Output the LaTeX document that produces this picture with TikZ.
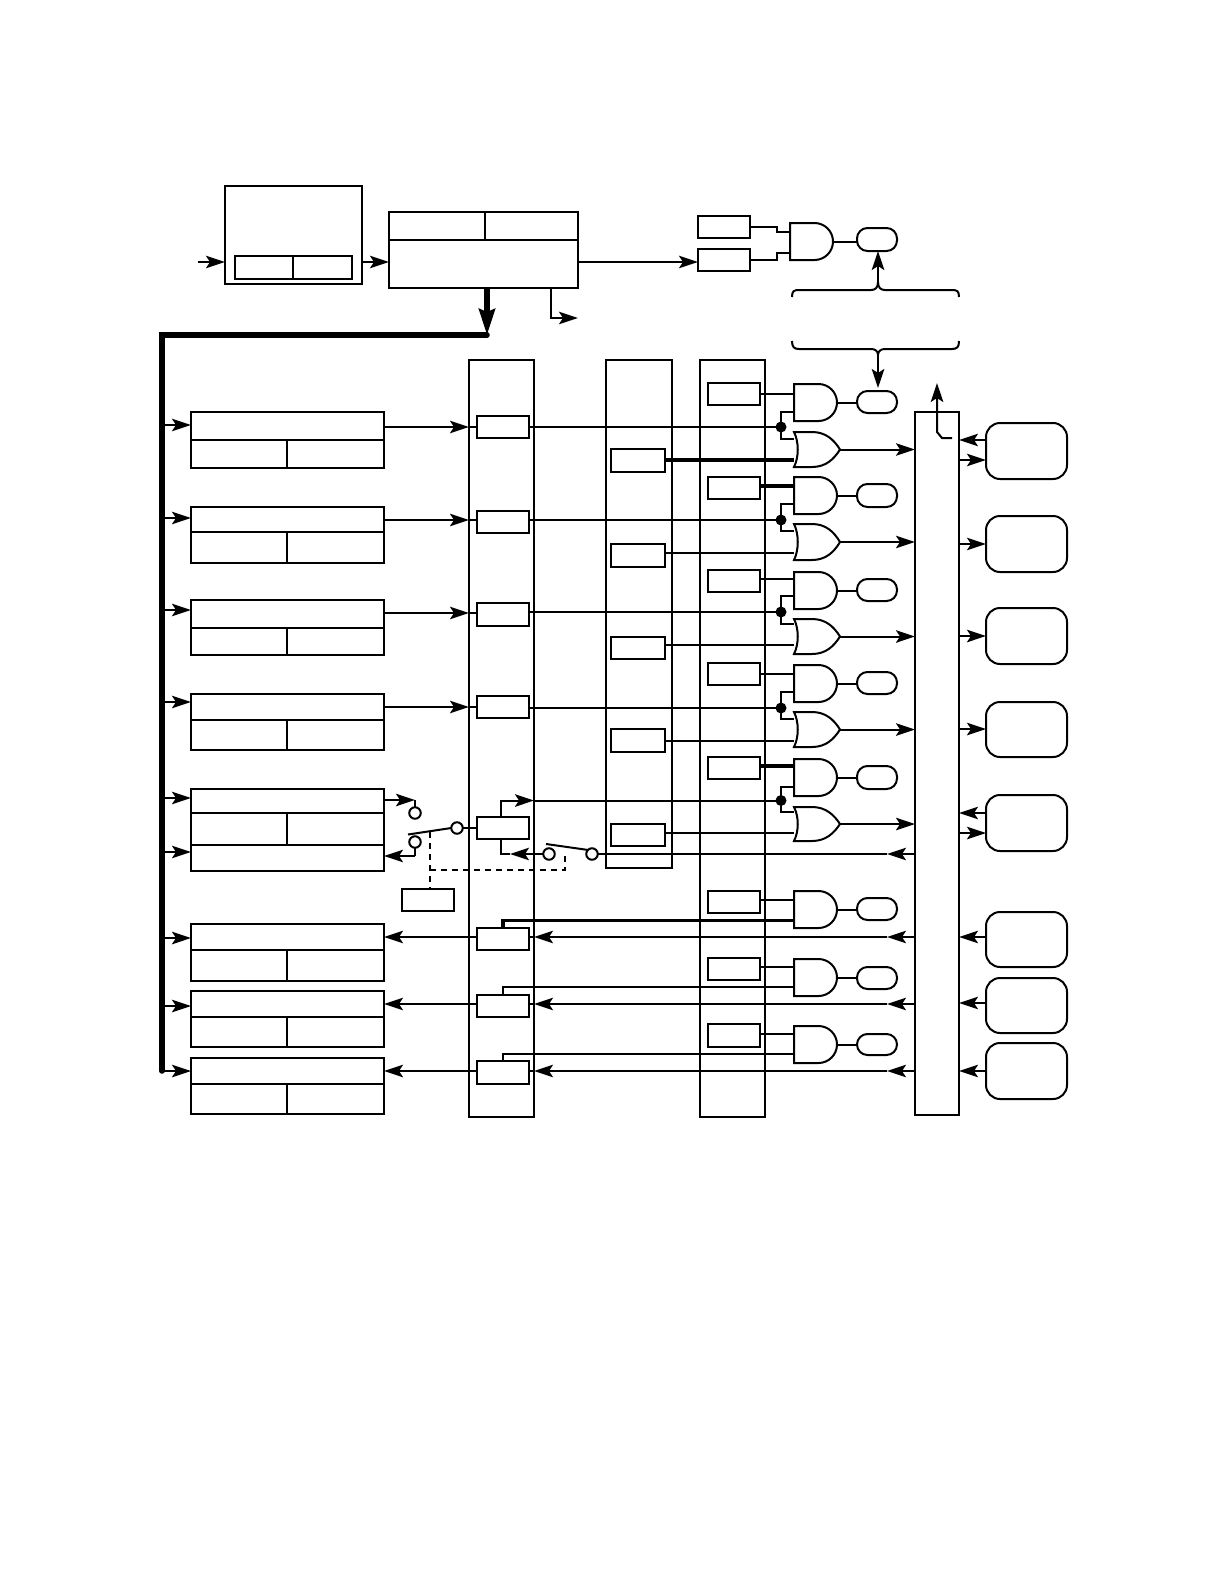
\documentclass[tikz,border=0pt]{standalone}
\usetikzlibrary{arrows.meta}
\tikzset{
  wire/.style={line width=2pt,line join=miter},
  heavy/.style={line width=3.2pt},
  arr/.style={wire,-{Stealth[length=19pt,width=12.5pt,inset=4pt]}},
  frame/.style={draw,line width=2pt,inner sep=0pt,outer sep=0pt,rectangle},
  strongframe/.style={frame,line width=2.5pt},
  pill/.style={frame,rounded corners=10.5pt,line width=2pt},
  tile/.style={frame,rounded corners=14pt,line width=2pt},
  ghost/.style={inner sep=0pt,outer sep=0pt,rectangle},
  term/.style={circle,draw,line width=2pt,fill=white,minimum size=11.5pt,inner sep=0pt,outer sep=0pt},
  joint/.style={circle,fill=black,minimum size=11pt,inner sep=0pt,outer sep=0pt},
  ctl/.style={line width=2.3pt,dash pattern=on 6pt off 5pt},
}
\newcommand{\putbox}[6]{%
  \pgfmathsetmacro{\wdv}{#5-#3}\pgfmathsetmacro{\htv}{#6-#4}%
  \pgfmathsetmacro{\cxv}{(#3+#5)/2}\pgfmathsetmacro{\cyv}{(#4+#6)/2}%
  \node[#1,minimum width=\wdv pt,minimum height=\htv pt] (#2) at (\cxv,\cyv) {};}
% register: name, top, rule, bottom
\newcommand{\reg}[4]{%
  \putbox{strongframe}{#1}{191}{#2}{384}{#4}
  \draw[wire] (#1.west |- 0,#3) -- (#1.east |- 0,#3);
  \draw[line width=2.5pt] (287,#3) -- (#1.south -| 287,0);}
% and gate: name, x, top, bottom
\newcommand{\andg}[4]{%
  \pgfmathsetmacro{\rr}{(#4-#3)/2}\pgfmathsetmacro{\xe}{#2+43}\pgfmathsetmacro{\xs}{#2+43-\rr}%
  \pgfmathsetmacro{\ym}{(#3+#4)/2}\pgfmathsetmacro{\kk}{0.55*\rr}%
  \putbox{ghost}{#1}{#2}{#3}{\xe}{#4}
  \draw[wire] (#2,#3) -- (\xs,#3)
    .. controls (\xs+\kk,#3) and (\xe,\ym-\kk) .. (\xe,\ym)
    .. controls (\xe,\ym+\kk) and (\xs+\kk,#4) .. (\xs,#4) -- (#2,#4) -- cycle;}
% or gate: name, x, top, bottom
\newcommand{\org}[4]{%
  \pgfmathsetmacro{\ym}{(#3+#4)/2}\pgfmathsetmacro{\xe}{#2+46}%
  \putbox{ghost}{#1}{#2}{#3}{\xe}{#4}
  \draw[wire] (#2,#3) .. controls (#2+5,#3+10) and (#2+5,#4-10) .. (#2,#4)
    -- (#2+18,#4) .. controls (#2+32,#4) and (#2+40,#4-8) .. (\xe,\ym)
    .. controls (#2+40,#3+8) and (#2+32,#3) .. (#2+18,#3) -- cycle;}
\begin{document}
\begin{tikzpicture}[x=1pt,y=-1pt]
\useasboundingbox (0,0) rectangle (1224,1584);
\fill[white] (0,0) rectangle (1224,1584);

% top blocks
\coordinate (inA) at (198,262);
\putbox{strongframe}{A}{225}{186}{362}{284}
\putbox{strongframe}{Ai}{235}{256}{352}{279}
\draw[wire] (293,256) -- (293,279);
\putbox{strongframe}{B}{389}{212}{578}{288}
\draw[wire] (B.west |- 0,240) -- (B.east |- 0,240);
\draw[wire] (485,212) -- (485,240);
\draw[arr] (inA) -- (A.west |- inA);
\draw[arr] (A.east |- inA) -- (B.west |- inA);

\putbox{frame}{T1}{698}{216}{750}{238}
\putbox{frame}{T2}{698}{249}{750}{271}
\andg{Tg}{790}{223}{260}
\putbox{pill}{Tp}{857}{228}{897}{251}
\draw[arr] (B.east |- inA) -- (T2.west |- inA);
\draw[wire] (T1.east |- 0,227) -- (777,227) -- (777,232) -- (Tg.west |- 0,232);
\draw[wire] (T2.east |- 0,260) -- (777,260) -- (777,253) -- (Tg.west |- 0,253);
\draw[wire] (Tg.east) -- (Tp.west |- Tg.east);

% bus
\coordinate (busEnd) at (487,335);
\coordinate (busCorner) at (162,335);
\coordinate (busFoot) at (162,1071);
\coordinate (sideOut) at (578,318);
\draw[line width=5.5pt,line cap=round,line join=miter] (busEnd) -- (busCorner) -- (busFoot);
\draw[line width=5.2pt,-{Stealth[length=26pt,width=16pt,inset=3pt]}] (B.south -| busEnd) -- (busEnd);
\draw[arr] (B.south -| 551,0) -- (551,318) -- (sideOut);

% braces
\coordinate (brT) at (878,282);
\coordinate (brB) at (878,355);
\draw[wire] (792,297) .. controls (792,291) and (794,290) .. (799,290) -- (871,290)
  .. controls (875,290) and (878,288) .. (brT) .. controls (878,288) and (881,290) .. (885,290)
  -- (952,290) .. controls (957,290) and (959,291) .. (959,297);
\draw[wire] (792,341) .. controls (792,347) and (794,349) .. (799,349) -- (871,349)
  .. controls (875,349) and (878,351) .. (brB) .. controls (878,351) and (881,349) .. (885,349)
  -- (952,349) .. controls (957,349) and (959,347) .. (959,341);
\draw[arr,line width=2.4pt] (brT) -- (Tp.south -| brT);
\draw[arr,line width=2.4pt] (brB) -- (878,388);

% columns
\putbox{frame}{C1}{469}{360}{534}{1117}
\putbox{frame}{C2}{606}{360}{672}{868}
\putbox{frame}{C3}{700}{360}{765}{1117}
\putbox{frame}{C4}{915}{412}{959}{1115}
\coordinate (upEnd) at (952,438);
\draw[arr] (upEnd) -- (942,438) -- (937,432) -- (937,383);

% registers
\reg{R1}{412}{440}{468}
\reg{R2}{507}{532}{563}
\reg{R3}{600}{628}{655}
\reg{R4}{694}{720}{750}
\putbox{strongframe}{R5}{191}{789}{384}{871}
\draw[wire] (R5.west |- 0,813) -- (R5.east |- 0,813);
\draw[wire] (R5.west |- 0,845) -- (R5.east |- 0,845);
\draw[line width=2.5pt] (287,813) -- (287,845);
\reg{R6}{924}{950}{981}
\reg{R7}{991}{1017}{1047}
\reg{R8}{1058}{1084}{1114}

\foreach \n/\yy in {R1/425,R2/518,R3/610,R4/702,R5/798,R5/852,R6/938,R7/1006}
  \draw[arr] (busCorner |- 0,\yy) -- (\n.west |- 0,\yy);
\draw[arr] (busFoot) -- (R8.west |- busFoot);

% column 1 boxes
\putbox{frame}{S1}{477}{416}{529}{438}
\putbox{frame}{S2}{477}{511}{529}{533}
\putbox{strongframe}{S3}{477}{603}{529}{626}
\putbox{frame}{S4}{477}{696}{529}{718}
\putbox{frame}{S5}{477}{817}{529}{839}
\putbox{frame}{S6}{477}{928}{529}{950}
\putbox{frame}{S7}{477}{995}{529}{1017}
\putbox{strongframe}{S8}{477}{1061}{529}{1084}

% column 2 boxes
\putbox{frame}{M1}{611}{449}{665}{472}
\putbox{frame}{M2}{611}{544}{665}{567}
\putbox{frame}{M3}{611}{637}{665}{659}
\putbox{strongframe}{M4}{611}{729}{665}{752}
\putbox{frame}{M5}{611}{824}{665}{846}

% column 3 boxes
\putbox{frame}{N1}{708}{383}{760}{405}
\putbox{strongframe}{N2}{708}{477}{760}{499}
\putbox{frame}{N3}{708}{570}{760}{592}
\putbox{frame}{N4}{708}{663}{760}{685}
\putbox{strongframe}{N5}{708}{757}{760}{779}
\putbox{frame}{N6}{708}{891}{760}{913}
\putbox{frame}{N7}{708}{958}{760}{980}
\putbox{frame}{N8}{708}{1024}{760}{1047}

% gates and pills
\andg{G1}{794}{384}{421}
\andg{G2}{794}{477}{514}
\andg{G3}{794}{572}{609}
\andg{G4}{794}{665}{702}
\andg{G5}{794}{759}{796}
\andg{G6}{794}{891}{928}
\andg{G7}{794}{959}{996}
\andg{G8}{794}{1026}{1063}
\org{O1}{794}{432}{467}
\org{O2}{794}{524}{560}
\org{O3}{794}{619}{654}
\org{O4}{794}{712}{747}
\org{O5}{794}{807}{841}
\putbox{pill}{P1}{857}{391}{897}{413}
\putbox{pill}{P2}{857}{484}{897}{507}
\putbox{pill}{P3}{857}{579}{897}{601}
\putbox{pill}{P4}{857}{672}{897}{694}
\putbox{pill}{P5}{857}{766}{897}{789}
\putbox{pill}{P6}{857}{898}{897}{920}
\putbox{pill}{P7}{857}{967}{897}{989}
\putbox{pill}{P8}{857}{1034}{897}{1055}
\foreach \i in {1,...,8} \draw[wire] (G\i.east) -- (P\i.west |- G\i.east);
\foreach \i in {1,...,5} \draw[arr] (O\i.east) -- (C4.west |- O\i.east);

% upper gate inputs
\foreach \i/\yy in {1/394,3/579,4/674,6/900,7/967,8/1034}
  \draw[wire] (N\i.east |- 0,\yy) -- (G\i.west |- 0,\yy);
\foreach \i/\yy in {2/486,5/766}
  \draw[heavy] (N\i.east |- 0,\yy) -- (G\i.west |- 0,\yy);

% column 2 to or gates
\draw[heavy] (M1.east |- 0,460) -- (O1.west |- 0,460);
\draw[wire] (M2.east |- 0,553) -- (O2.west |- 0,553);
\draw[wire] (M3.east |- 0,645) -- (O3.west |- 0,645);
\draw[wire] (M4.east |- 0,741) -- (O4.west |- 0,741);
\draw[wire] (M5.east |- 0,833) -- (O5.west |- 0,833);

% junctions
\foreach \i/\yj/\ya/\yo in {1/427/412/439,2/520/504/531,3/612/596/624,4/708/692/719,5/800.5/787/812}{
  \node[joint] (J\i) at (781,\yj) {};
  \draw[wire] (G\i.west |- 0,\ya) -- (781,\ya) -- (781,\yo) -- (O\i.west |- 0,\yo);
}
\foreach \i/\yy in {1/427,2/520,3/612,4/708}{
  \draw[wire] (S\i.east |- 0,\yy) -- (J\i.west);
}
\draw[arr] (R1.east |- 0,427) -- (C1.west |- 0,427);
\draw[wire] (C1.west |- 0,427) -- (S1.west |- 0,427);
\draw[arr] (R2.east |- 0,520) -- (C1.west |- 0,520);
\draw[wire] (C1.west |- 0,520) -- (S2.west |- 0,520);
\draw[arr] (R3.east |- 0,613) -- (C1.west |- 0,613);
\draw[wire] (C1.west |- 0,613) -- (S3.west |- 0,613);
\draw[arr] (R4.east |- 0,707) -- (C1.west |- 0,707);
\draw[wire] (C1.west |- 0,707) -- (S4.west |- 0,707);

% row 5 switches
\node[term] (a1) at (415,813) {};
\node[term] (a2) at (415,842) {};
\node[term] (a3) at (457,828) {};
\node[term] (b1) at (549,854) {};
\node[term] (b2) at (592,854) {};
\putbox{frame}{K}{402}{889}{454}{911}
\coordinate (arm1) at (408,834.5);
\coordinate (arm2) at (546,844);
\coordinate (dashTop) at (430,832);
\coordinate (dashEnd) at (565,855);
\coordinate (swIn) at (415,800);
\coordinate (swOut) at (415,856);
\draw[arr] (R5.east |- swIn) -- (swIn);
\draw[wire] (swIn) -- (a1.north);
\draw[wire] (a2.south) -- (swOut);
\draw[arr] (swOut) -- (R5.east |- swOut);
\draw[wire] (arm1) -- (a3.west);
\draw[wire] (a3.east) -- (S5.west |- a3);
\draw[wire] (arm2) -- (b2.north west);
\draw[arr] (S5.north -| 501,0) -- (501,800.5) -- (C1.east |- 0,800.5);
\draw[wire] (C1.east |- J5) -- (J5.west);
\draw[arr] (b1.west) -- (510,854);
\draw[wire] (510,854) -- (501,854) -- (S5.south -| 501,0);
\draw[arr] (C4.west |- 0,854) -- (887,854);
\draw[wire] (887,854) -- (b2.east);
\draw[ctl] (dashTop) -- (K.north -| dashTop);
\draw[ctl] (430,870) -- (565,870) -- (dashEnd);

% rows 6-8
\draw[heavy] (G6.west |- 0,920.5) -- (503,920.5) -- (S6.north -| 503,0);
\draw[wire] (G7.west |- 0,987) -- (503,987) -- (S7.north -| 503,0);
\draw[wire] (G8.west |- 0,1054) -- (503,1054) -- (S8.north -| 503,0);
\foreach \i/\yy in {6/937,7/1004,8/1071}{
  \draw[arr] (S\i.west |- 0,\yy) -- (R\i.east |- 0,\yy);
  \draw[arr] (C4.west |- 0,\yy) -- (887,\yy);
  \draw[arr] (887,\yy) -- (C1.east |- 0,\yy);
  \draw[wire] (C1.east |- 0,\yy) -- (S\i.east |- 0,\yy);
}

% right tiles
\putbox{tile}{E1}{986}{423}{1067}{479}
\putbox{tile}{E2}{986}{516}{1067}{572}
\putbox{tile}{E3}{986}{608}{1067}{664}
\putbox{tile}{E4}{986}{702}{1067}{757}
\putbox{tile}{E5}{986}{795}{1067}{851}
\putbox{tile}{E6}{986}{912}{1067}{967}
\putbox{tile}{E7}{986}{978}{1067}{1033}
\putbox{tile}{E8}{986}{1043}{1067}{1099}
\foreach \i/\yy in {1/440,5/813,6/937,7/1003,8/1071}
  \draw[arr] (E\i.west |- 0,\yy) -- (C4.east |- 0,\yy);
\foreach \i/\yy in {1/460,2/544,3/636,4/729,5/833}
  \draw[arr] (C4.east |- 0,\yy) -- (E\i.west |- 0,\yy);
\end{tikzpicture}
\end{document}
